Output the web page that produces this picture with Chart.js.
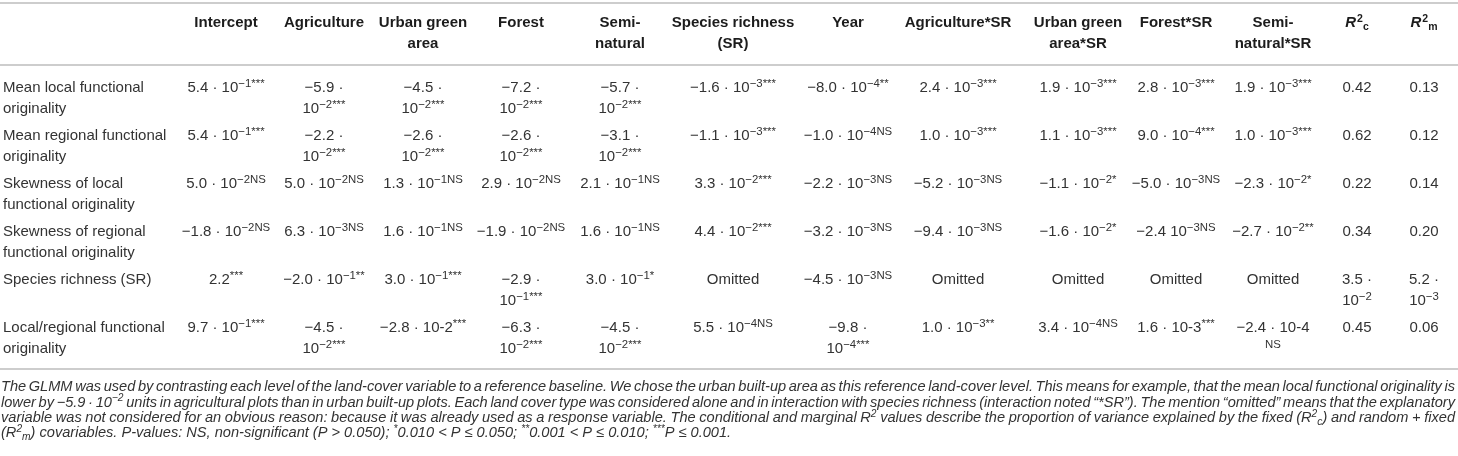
<!DOCTYPE html>
<html>
<head>
<meta charset="utf-8">
<script src="https://cdn.jsdelivr.net/npm/chart.js@4.4.1/dist/chart.umd.min.js"></script>
<style>
  html, body { margin: 0; padding: 0; background: #ffffff; }
  #wrap { width: 1458px; height: 456px; position: relative; }
</style>
</head>
<body>
<div id="wrap"><canvas id="chart"></canvas></div>
<script>
// ---------------- DATA ----------------
// Markup: ^{..} superscript, _{..} subscript, ~{..} italic
const columnHeaders = [
  ["Intercept"],
  ["Agriculture"],
  ["Urban green", "area"],
  ["Forest"],
  ["Semi-", "natural"],
  ["Species richness", "(SR)"],
  ["Year"],
  ["Agriculture*SR"],
  ["Urban green", "area*SR"],
  ["Forest*SR"],
  ["Semi-", "natural*SR"],
  ["~{R}^{2}_{c}"],
  ["~{R}^{2}_{m}"]
];

const rowLabels = [
  ["Mean local functional", "originality"],
  ["Mean regional functional", "originality"],
  ["Skewness of local", "functional originality"],
  ["Skewness of regional", "functional originality"],
  ["Species richness (SR)"],
  ["Local/regional functional", "originality"]
];

const colIntercept = [
  ["5.4 · 10^{−1***}"],
  ["5.4 · 10^{−1***}"],
  ["5.0 · 10^{−2NS}"],
  ["−1.8 · 10^{−2NS}"],
  ["2.2^{***}"],
  ["9.7 · 10^{−1***}"]
];
const colAgriculture = [
  ["−5.9 ·", "10^{−2***}"],
  ["−2.2 ·", "10^{−2***}"],
  ["5.0 · 10^{−2NS}"],
  ["6.3 · 10^{−3NS}"],
  ["−2.0 · 10^{−1**}"],
  ["−4.5 ·", "10^{−2***}"]
];
const colUrbanGreen = [
  ["−4.5 ·", "10^{−2***}"],
  ["−2.6 ·", "10^{−2***}"],
  ["1.3 · 10^{−1NS}"],
  ["1.6 · 10^{−1NS}"],
  ["3.0 · 10^{−1***}"],
  ["−2.8 · 10-2^{***}"]
];
const colForest = [
  ["−7.2 ·", "10^{−2***}"],
  ["−2.6 ·", "10^{−2***}"],
  ["2.9 · 10^{−2NS}"],
  ["−1.9 · 10^{−2NS}"],
  ["−2.9 ·", "10^{−1***}"],
  ["−6.3 ·", "10^{−2***}"]
];
const colSemiNatural = [
  ["−5.7 ·", "10^{−2***}"],
  ["−3.1 ·", "10^{−2***}"],
  ["2.1 · 10^{−1NS}"],
  ["1.6 · 10^{−1NS}"],
  ["3.0 · 10^{−1*}"],
  ["−4.5 ·", "10^{−2***}"]
];
const colSpeciesRichness = [
  ["−1.6 · 10^{−3***}"],
  ["−1.1 · 10^{−3***}"],
  ["3.3 · 10^{−2***}"],
  ["4.4 · 10^{−2***}"],
  ["Omitted"],
  ["5.5 · 10^{−4NS}"]
];
const colYear = [
  ["−8.0 · 10^{−4**}"],
  ["−1.0 · 10^{−4NS}"],
  ["−2.2 · 10^{−3NS}"],
  ["−3.2 · 10^{−3NS}"],
  ["−4.5 · 10^{−3NS}"],
  ["−9.8 ·", "10^{−4***}"]
];
const colAgricultureSR = [
  ["2.4 · 10^{−3***}"],
  ["1.0 · 10^{−3***}"],
  ["−5.2 · 10^{−3NS}"],
  ["−9.4 · 10^{−3NS}"],
  ["Omitted"],
  ["1.0 · 10^{−3**}"]
];
const colUrbanGreenSR = [
  ["1.9 · 10^{−3***}"],
  ["1.1 · 10^{−3***}"],
  ["−1.1 · 10^{−2*}"],
  ["−1.6 · 10^{−2*}"],
  ["Omitted"],
  ["3.4 · 10^{−4NS}"]
];
const colForestSR = [
  ["2.8 · 10^{−3***}"],
  ["9.0 · 10^{−4***}"],
  ["−5.0 · 10^{−3NS}"],
  ["−2.4 10^{−3NS}"],
  ["Omitted"],
  ["1.6 · 10-3^{***}"]
];
const colSemiNaturalSR = [
  ["1.9 · 10^{−3***}"],
  ["1.0 · 10^{−3***}"],
  ["−2.3 · 10^{−2*}"],
  ["−2.7 · 10^{−2**}"],
  ["Omitted"],
  ["−2.4 · 10-4", "^{NS}"]
];
const colR2c = [
  ["0.42"], ["0.62"], ["0.22"], ["0.34"], ["3.5 ·", "10^{−2}"], ["0.45"]
];
const colR2m = [
  ["0.13"], ["0.12"], ["0.14"], ["0.20"], ["5.2 ·", "10^{−3}"], ["0.06"]
];

const captionLines = [
  "The GLMM was used by contrasting each level of the land-cover variable to a reference baseline. We chose the urban built-up area as this reference land-cover level. This means for example, that the mean local functional originality is",
  "lower by −5.9 · 10^{−2} units in agricultural plots than in urban built-up plots. Each land cover type was considered alone and in interaction with species richness (interaction noted “*SR”). The mention “omitted” means that the explanatory",
  "variable was not considered for an obvious reason: because it was already used as a response variable. The conditional and marginal R^{2} values describe the proportion of variance explained by the fixed (R^{2}_{c}) and random + fixed",
  "(R^{2}_{m}) covariables. P-values: NS, non-significant (P > 0.050); ^{*}0.010 < P ≤ 0.050; ^{**}0.001 < P ≤ 0.010; ^{***}P ≤ 0.001."
];

const tableColumns = [
  colIntercept, colAgriculture, colUrbanGreen, colForest, colSemiNatural,
  colSpeciesRichness, colYear, colAgricultureSR, colUrbanGreenSR, colForestSR,
  colSemiNaturalSR, colR2c, colR2m
];

// ---------------- STYLE / LAYOUT ----------------
const FAMILY = '"Liberation Sans", Arial, Helvetica, sans-serif';
const STYLE = {
  colWidths: [188, 76, 120, 78, 118, 80, 146, 84, 136, 104, 92, 102, 66, 68],
  bodySize: 15,
  supScale: 0.76,
  lineGap: 21,
  headerLineGap: 21,
  headerAbove: 43,
  captionSize: 14.6,
  captionGap: 15.4,
  captionBelow: 17,
  textColor: '#333333',
  headerColor: '#1c1c1c',
  ruleColor: '#bdbdbd',
  topRuleY: 3
};

function colCenter(j) {
  let left = 0;
  for (let k = 0; k < j; k++) left += STYLE.colWidths[k];
  return left + STYLE.colWidths[j] / 2;
}
const totalWidth = STYLE.colWidths.reduce((a, b) => a + b, 0);

// ---------------- RICH TEXT ----------------
function parseRich(str) {
  const out = [];
  let buf = '';
  let i = 0;
  while (i < str.length) {
    const ch = str[i];
    if ((ch === '^' || ch === '_' || ch === '~') && str[i + 1] === '{') {
      if (buf) { out.push({ t: buf, m: 'n' }); buf = ''; }
      const end = str.indexOf('}', i + 2);
      out.push({ t: str.slice(i + 2, end), m: ch });
      i = end + 1;
    } else { buf += ch; i++; }
  }
  if (buf) out.push({ t: buf, m: 'n' });
  return out;
}
function segFont(seg, base) {
  const small = seg.m === '^' || seg.m === '_';
  const size = small ? base.size * (base.sup || STYLE.supScale) : base.size;
  const it = base.italic || seg.m === '~';
  return (it ? 'italic ' : '') + (base.weight || 'normal') + ' ' + size + 'px ' + FAMILY;
}
function segWidth(ctx, seg, base) {
  ctx.font = segFont(seg, base);
  let w = ctx.measureText(seg.t).width;
  if (seg.m === '~') w += 1;
  return w;
}
function richWidth(ctx, segs, base) {
  let w = 0;
  for (const s of segs) w += segWidth(ctx, s, base);
  return w;
}
function drawSegs(ctx, segs, x, baseline, base) {
  let cx = x;
  for (const s of segs) {
    ctx.font = segFont(s, base);
    let dy = 0;
    if (s.m === '^') dy = -base.size * 0.36;
    if (s.m === '_') dy = base.size * 0.2;
    ctx.fillText(s.t, cx, baseline + dy);
    cx += segWidth(ctx, s, base);
  }
  return cx;
}
function drawRich(ctx, str, x, middleY, base, align) {
  const segs = parseRich(str);
  const w = richWidth(ctx, segs, base);
  let sx = x;
  if (align === 'center') sx = x - w / 2;
  else if (align === 'right') sx = x - w;
  const baseline = middleY + base.size * 0.36;
  drawSegs(ctx, segs, sx, baseline, base);
}
function drawJustified(ctx, str, left, right, middleY, base, justify) {
  const words = str.split(' ').map(parseRich);
  const widths = words.map(w => richWidth(ctx, w, base));
  ctx.font = segFont({ m: 'n' }, base);
  const space = ctx.measureText(' ').width;
  const sum = widths.reduce((a, b) => a + b, 0);
  let gap = space;
  if (justify && words.length > 1) gap = (right - left - sum) / (words.length - 1);
  const baseline = middleY + base.size * 0.36;
  let x = left;
  ctx.save();
  if (gap < 2 && words.length > 1) {
    const natural = sum + 2.5 * (words.length - 1);
    const k = (right - left) / natural;
    ctx.translate(left, 0);
    ctx.scale(k, 1);
    ctx.translate(-left, 0);
    gap = 2.5;
  }
  words.forEach((w, i) => {
    drawSegs(ctx, w, x, baseline, base);
    x += widths[i] + gap;
  });
  ctx.restore();
}

// ---------------- TABLE PLUGIN ----------------
const tablePlugin = {
  id: 'tableText',
  afterDatasetsDraw(chart) {
    const ctx = chart.ctx;
    const area = chart.chartArea;
    const xs = chart.scales.x;
    const ys = chart.scales.y;
    ctx.save();
    ctx.textBaseline = 'alphabetic';
    ctx.textAlign = 'left';

    // rules
    ctx.strokeStyle = STYLE.ruleColor;
    ctx.lineWidth = 1.6;
    [STYLE.topRuleY, area.top, area.bottom].forEach(y => {
      ctx.beginPath();
      ctx.moveTo(area.left, y);
      ctx.lineTo(area.right, y);
      ctx.stroke();
    });

    const body = { size: STYLE.bodySize, weight: 'normal' };
    const head = { size: STYLE.bodySize, weight: 'bold', sup: 0.7 };

    // header row
    ctx.fillStyle = STYLE.headerColor;
    chart.data.datasets.forEach((ds, j) => {
      const meta = chart.getDatasetMeta(j);
      const x = meta.data[0].x;
      const lines = columnHeaders[j];
      lines.forEach((ln, k) => {
        drawRich(ctx, ln, x, area.top - STYLE.headerAbove + k * STYLE.headerLineGap, head, 'center');
      });
    });

    // row labels
    ctx.fillStyle = STYLE.textColor;
    const labelX = xs.getPixelForValue(0) + 3;
    rowLabels.forEach((lines, i) => {
      const y = ys.getPixelForValue(i);
      lines.forEach((ln, k) => drawRich(ctx, ln, labelX, y + k * STYLE.lineGap, body, 'left'));
    });

    // cells
    chart.data.datasets.forEach((ds, j) => {
      const meta = chart.getDatasetMeta(j);
      meta.data.forEach((pt, i) => {
        const lines = tableColumns[j][i];
        lines.forEach((ln, k) => drawRich(ctx, ln, pt.x, pt.y + k * STYLE.lineGap, body, 'center'));
      });
    });

    // caption
    const cap = { size: STYLE.captionSize, weight: 'normal', italic: true, sup: 0.7 };
    captionLines.forEach((ln, k) => {
      const y = area.bottom + STYLE.captionBelow + k * STYLE.captionGap;
      drawJustified(ctx, ln, area.left + 1, area.right - 3, y, cap, k < captionLines.length - 1);
    });
    ctx.restore();
  }
};

// ---------------- CHART ----------------
const datasets = tableColumns.map((col, j) => ({
  label: columnHeaders[j].join(' '),
  data: col.map((cell, i) => ({ x: colCenter(j + 1), y: i })),
  pointRadius: 0,
  pointHoverRadius: 0,
  showLine: false
}));

new Chart(document.getElementById('chart'), {
  type: 'scatter',
  data: { datasets },
  options: {
    responsive: true,
    maintainAspectRatio: false,
    animation: false,
    events: [],
    layout: { padding: { top: 65, bottom: 87, left: 0, right: 0 } },
    scales: {
      x: { type: 'linear', display: false, min: 0, max: totalWidth },
      y: { type: 'linear', display: false, min: -0.46, max: 5.875, reverse: true }
    },
    plugins: { legend: { display: false }, tooltip: { enabled: false }, title: { display: false } }
  },
  plugins: [tablePlugin]
});
</script>
</body>
</html>
